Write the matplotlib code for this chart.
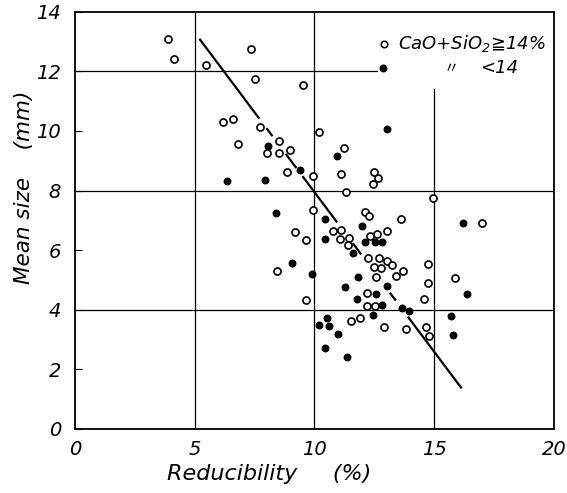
import matplotlib
matplotlib.use('Agg')
import matplotlib.pyplot as plt

plt.rcParams['font.family'] = ['DejaVu Sans', 'Noto Sans CJK JP']
plt.rcParams['font.style'] = 'italic'

# CaO+SiO2 >= 14 %
open_x = [3.88, 4.14, 5.47, 7.34, 7.52, 9.51, 6.18, 6.61, 7.71, 6.83, 8.51, 8.03, 8.52,
          8.97, 8.84, 9.94, 10.2, 11.23, 11.13, 12.48, 12.65, 12.44, 11.31, 14.94, 9.96,
          12.1, 12.26, 13.6, 16.99, 9.18, 9.64, 10.77, 11.13, 11.07, 11.46, 11.39, 12.31,
          12.62, 13.04, 12.22, 12.71, 13.04, 13.25, 12.5, 12.76, 13.71, 13.4, 12.58, 8.45,
          14.73, 14.73, 15.86, 12.2, 9.67, 14.56, 12.18, 12.52, 11.92, 11.53, 12.89, 13.82,
          14.67, 14.77]
open_y = [13.09, 12.43, 12.2, 12.76, 11.76, 11.54, 10.3, 10.41, 10.13, 9.57, 9.67, 9.25, 9.27,
          9.36, 8.62, 8.5, 9.98, 9.43, 8.55, 8.61, 8.41, 8.23, 7.95, 7.75, 7.34,
          7.27, 7.16, 7.06, 6.9, 6.61, 6.35, 6.65, 6.68, 6.37, 6.41, 6.18, 6.49,
          6.54, 6.63, 5.74, 5.75, 5.63, 5.5, 5.43, 5.39, 5.29, 5.12, 5.11, 5.3,
          5.55, 4.91, 5.06, 4.55, 4.32, 4.35, 4.13, 4.14, 3.71, 3.61, 3.43, 3.37,
          3.41, 3.12]

# CaO+SiO2 < 14 %
filled_x = [8.08, 9.41, 6.37, 7.92, 8.38, 13.01, 10.95, 10.45, 11.98, 16.22, 10.46, 11.62,
            12.13, 12.52, 12.83, 9.08, 9.89, 11.84, 11.27, 13.04, 12.59, 11.76, 16.36, 12.83,
            13.67, 13.93, 15.72, 12.44, 10.53, 10.2, 10.61, 10.98, 15.77, 10.43, 11.38]
filled_y = [9.5, 8.68, 8.32, 8.37, 7.25, 10.07, 9.15, 7.06, 6.81, 6.92, 6.37, 5.9,
            6.27, 6.29, 6.27, 5.56, 5.19, 5.09, 4.75, 4.8, 4.52, 4.36, 4.53, 4.15,
            4.07, 3.95, 3.79, 3.83, 3.73, 3.49, 3.45, 3.19, 3.16, 2.73, 2.41]

# trend line, drawn broken where it crosses the points
line_a = 18.67
line_b = -1.072
line_segments = [(5.2, 7.7), (8.0, 8.25), (8.8, 9.25), (9.5, 10.95),
                 (11.6, 11.95), (13.15, 13.4), (13.9, 16.15)]

fig = plt.figure(figsize=(5.67, 4.93), dpi=100)
ax = fig.add_axes([0.132, 0.13, 0.845, 0.846])
ax.set_xlim(0, 20)
ax.set_ylim(0, 14)

# grid
ax.axvline(5, color='black', lw=0.9)
ax.axvline(10, color='black', lw=0.9)
ax.axvline(15, ymax=11.4 / 14, color='black', lw=0.9)
ax.axhline(4, color='black', lw=0.9)
ax.axhline(8, color='black', lw=0.9)
ax.axhline(12, xmax=12.6 / 20, color='black', lw=0.9)

for x0, x1 in line_segments:
    ax.plot([x0, x1], [line_a + line_b * x0, line_a + line_b * x1],
            color='black', lw=1.6, solid_capstyle='butt')

ax.scatter(open_x, open_y, s=26, facecolors='white', edgecolors='black',
           linewidths=1.2, zorder=3)
ax.scatter(filled_x, filled_y, s=22, color='black', zorder=3)

# legend
ax.scatter([0.645], [0.924], s=22, facecolors='white', edgecolors='black',
           linewidths=1.1, transform=ax.transAxes, zorder=3, clip_on=False)
ax.scatter([0.643], [0.865], s=22, color='black', transform=ax.transAxes,
           zorder=3, clip_on=False)
ax.text(0.675, 0.924, 'CaO+SiO$_2$≧14%', transform=ax.transAxes,
        fontsize=13, va='center', ha='left')
ax.text(0.77, 0.865, '〃', transform=ax.transAxes, fontsize=11,
        va='center', ha='left', family=['Noto Sans CJK JP'])
ax.text(0.845, 0.865, '<14', transform=ax.transAxes, fontsize=13,
        va='center', ha='left')

ax.set_xticks([0, 5, 10, 15, 20])
ax.set_yticks([0, 2, 4, 6, 8, 10, 12, 14])
ax.tick_params(axis='x', length=0, labelsize=14, pad=8)
ax.tick_params(axis='y', direction='in', length=5, labelsize=14, pad=10)

for s in ax.spines.values():
    s.set_linewidth(1.3)

ax.set_xlabel('Reducibility     (%)', fontsize=16)
ax.set_ylabel('Mean size    (mm)', fontsize=15.5)
ax.xaxis.set_label_coords(0.405, -0.085)
ax.yaxis.set_label_coords(-0.085, 0.58)

fig.savefig('out.png', dpi=100)
